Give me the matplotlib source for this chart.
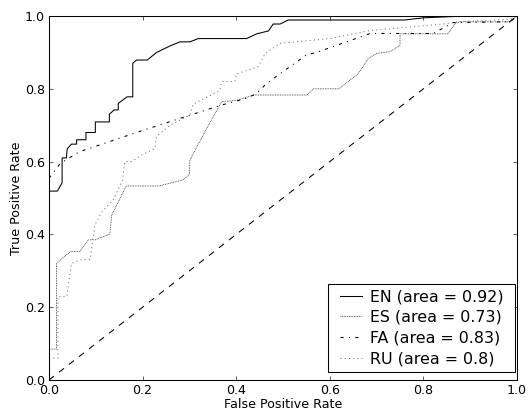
import matplotlib
matplotlib.use("Agg")
import matplotlib.pyplot as plt
from matplotlib.legend_handler import HandlerLine2D
from matplotlib.lines import Line2D

# ROC curves
en_fpr = [0, 0.018, 0.028, 0.028, 0.037, 0.039, 0.048, 0.059, 0.059, 0.079, 0.079, 0.099, 0.099,
          0.129, 0.129, 0.139, 0.148, 0.148, 0.167, 0.179, 0.179, 0.187, 0.21, 0.23, 0.259, 0.28,
          0.301, 0.319, 0.422, 0.444, 0.469, 0.479, 0.494, 0.511, 0.76, 0.80, 0.89, 1.0]
en_tpr = [0.519, 0.519, 0.542, 0.61, 0.61, 0.635, 0.648, 0.648, 0.66, 0.66, 0.68, 0.68, 0.709,
          0.709, 0.73, 0.742, 0.742, 0.76, 0.778, 0.778, 0.87, 0.879, 0.879, 0.9, 0.918, 0.929,
          0.929, 0.938, 0.938, 0.951, 0.959, 0.978, 0.978, 0.989, 0.989, 0.995, 1.0, 1.0]

es_fpr = [0, 0.016, 0.016, 0.04, 0.048, 0.066, 0.084, 0.098, 0.13, 0.134, 0.165, 0.234, 0.285,
          0.30, 0.301, 0.337, 0.369, 0.401, 0.437, 0.551, 0.565, 0.62, 0.643, 0.661, 0.682, 0.70,
          0.729, 0.75, 0.75, 0.853, 0.868, 0.878, 0.985, 1.0]
es_tpr = [0.085, 0.085, 0.32, 0.347, 0.353, 0.353, 0.385, 0.385, 0.401, 0.453, 0.533, 0.533, 0.549,
          0.565, 0.604, 0.691, 0.765, 0.768, 0.783, 0.783, 0.80, 0.80, 0.824, 0.842, 0.883, 0.897,
          0.902, 0.92, 0.951, 0.951, 0.98, 0.984, 0.984, 1.0]

fa_fpr = [0, 0.024, 0.065, 0.194, 0.365, 0.422, 0.444, 0.465, 0.55, 0.572, 0.686, 0.821, 0.864,
          0.985, 1.0]
fa_tpr = [0.554, 0.595, 0.627, 0.683, 0.754, 0.774, 0.787, 0.815, 0.893, 0.90, 0.952, 0.952, 0.982,
          0.984, 1.0]

ru_fpr = [0, 0.019, 0.019, 0.038, 0.048, 0.066, 0.088, 0.098, 0.113, 0.137, 0.157, 0.162, 0.177,
          0.194, 0.226, 0.23, 0.259, 0.301, 0.308, 0.365, 0.369, 0.397, 0.401, 0.447, 0.462, 0.494,
          0.60, 0.686, 0.764, 0.843, 0.871, 0.985, 1.0]
ru_tpr = [0.06, 0.06, 0.229, 0.229, 0.32, 0.33, 0.331, 0.426, 0.462, 0.494, 0.549, 0.60, 0.60,
          0.615, 0.636, 0.67, 0.70, 0.728, 0.758, 0.795, 0.82, 0.82, 0.841, 0.861, 0.897, 0.925,
          0.938, 0.96, 0.969, 0.978, 0.984, 0.991, 1.0]

labels = ["EN (area = 0.92)", "ES (area = 0.73)", "FA (area = 0.83)", "RU (area = 0.8)"]
ticks = [0.0, 0.2, 0.4, 0.6, 0.8, 1.0]

plt.rcParams['font.family'] = ['DejaVu Sans']
plt.rcParams['font.size'] = 12

DPI = 76
W, H = 529, 410
fig = plt.figure(figsize=(W / DPI, H / DPI), dpi=DPI)
ax = fig.add_axes([49 / W, 1 - 380 / H, 468 / W, 364 / H])

ax.plot(en_fpr, en_tpr, color='black', linestyle='-', linewidth=1.0, label=labels[0])
ax.plot(es_fpr, es_tpr, color='0.2', linestyle=(0, (1, 1)), linewidth=0.8, label=labels[1])
ax.plot(fa_fpr, fa_tpr, color='black', linestyle=(0, (3, 5, 1, 5)), linewidth=1.0, label=labels[2])
ax.plot(ru_fpr, ru_tpr, color='0.45', linestyle=(0, (1, 3)), linewidth=1.0, label=labels[3])
ax.plot([0, 1], [0, 1], color='black', linestyle=(0, (6, 6)), linewidth=1.0)

ax.set_xlim(0, 1)
ax.set_ylim(0, 1)
ax.set_xticks(ticks)
ax.set_yticks(ticks)
ax.set_xticklabels([f"{t:.1f}" for t in ticks])
ax.set_yticklabels([f"{t:.1f}" for t in ticks])
ax.tick_params(direction='in', top=True, right=True, length=4, width=0.6, pad=4, labelsize=12)
for s in ax.spines.values():
    s.set_linewidth(1.0)
ax.set_xlabel("False Positive Rate", fontsize=12, labelpad=0.5)
ax.set_ylabel("True Positive Rate", fontsize=12, labelpad=1.5)

leg = ax.legend(loc='lower right',
                bbox_to_anchor=((328 - 49) / 468, (380 - 372) / 364, 187 / 468, 90 / 364),
                mode='expand', borderaxespad=0, fancybox=False, edgecolor='black',
                framealpha=1, fontsize=15, handlelength=1.8, handletextpad=0.5,
                labelspacing=0.37, borderpad=0.34,
                handler_map={Line2D: HandlerLine2D(xpad=0.42)})
leg.get_frame().set_linewidth(1.0)

fig.savefig("out.png", dpi=DPI)
